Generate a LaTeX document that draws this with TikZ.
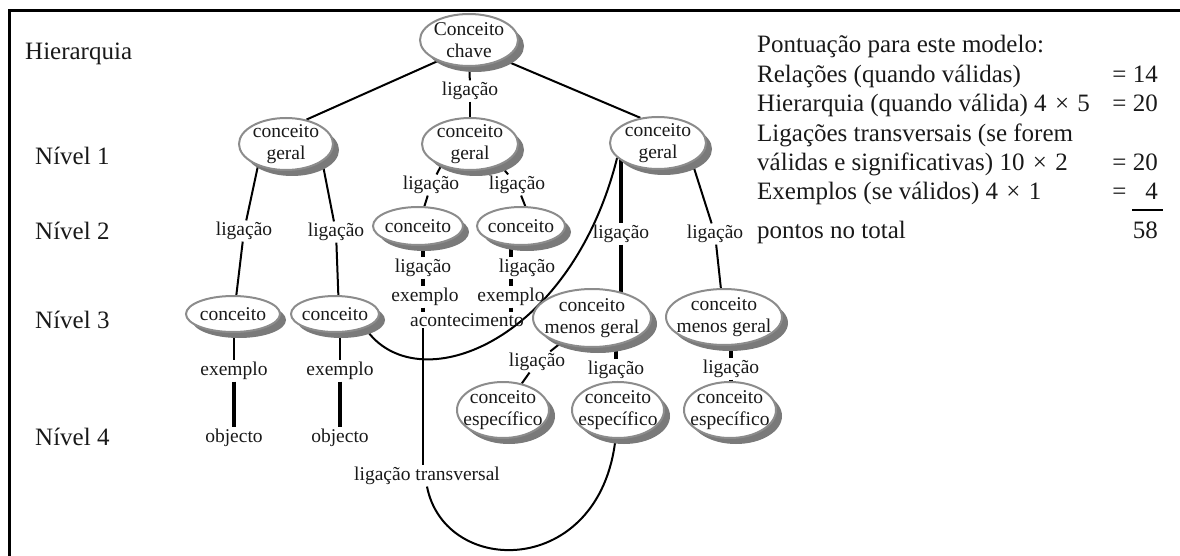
\documentclass[tikz,border=0pt]{standalone}
\usepackage{fontspec}
\setmainfont{Liberation Serif}
\usetikzlibrary{shapes.geometric,shadows,backgrounds}
\definecolor{ellline}{HTML}{8C8C8C}
\definecolor{ellshadow}{HTML}{7A7A7A}
\begin{document}
\begin{tikzpicture}[x=1pt,y=-1pt,
  ell/.style={ellipse, draw=ellline, line width=2pt, fill=white, inner sep=0pt,
     drop shadow={shadow xshift=6pt, shadow yshift=-6pt, fill=ellshadow, opacity=1}},
  ellt/.style={font=\fontsize{19.5}{22}\selectfont, align=center, inner sep=0pt, text=black!90},
  lbl/.style={font=\fontsize{19.5}{22}\selectfont, inner xsep=1pt, inner ysep=1.5pt, text=black!90},
  big/.style={font=\fontsize{25}{27}\selectfont, inner sep=0pt, text=black!90},
  conn/.style={line width=2pt},
  thk/.style={line width=3.5pt},
]
\useasboundingbox (0,0) rectangle (1180,556);
% frame
\draw[line width=3pt] (9,556) -- (9,11) -- (1180,11);

% left hierarchy labels
\node[big, anchor=base west] (hier) at (25,60) {Hierarquia};
\node[big, anchor=west] (n1) at (35,156) {Nível 1};
\node[big, anchor=west] (n2) at (35,231) {Nível 2};
\node[big, anchor=west] (n3) at (35,320) {Nível 3};
\node[big, anchor=west] (n4) at (35,437) {Nível 4};

% concept ellipses
\node[ell, minimum width=98, minimum height=52, label={[ellt]center:{Conceito\\chave}}] (K) at (469,40) {};
\node[ell, minimum width=94, minimum height=52, label={[ellt]center:{conceito\\geral}}] (G1) at (286,144) {};
\node[ell, minimum width=96, minimum height=52, label={[ellt]center:{conceito\\geral}}] (G2) at (470,144) {};
\node[ell, minimum width=96, minimum height=52, label={[ellt]center:{conceito\\geral}}] (G3) at (658,143) {};
\node[ell, minimum width=90, minimum height=38, label={[ellt]center:{conceito}}] (C1) at (418,226) {};
\node[ell, minimum width=88, minimum height=38, label={[ellt]center:{conceito}}] (C2) at (521,226) {};
\node[ell, minimum width=94, minimum height=36, label={[ellt]center:{conceito}}] (D1) at (233,314) {};
\node[ell, minimum width=88, minimum height=36, label={[ellt]center:{conceito}}] (D2) at (335,314) {};
\node[ell, minimum width=118, minimum height=58, label={[ellt]center:{conceito\\menos geral}}] (M1) at (592,318) {};
\node[ell, minimum width=116, minimum height=56, label={[ellt]center:{conceito\\menos geral}}] (M2) at (724,317) {};
\node[ell, minimum width=92, minimum height=56, label={[ellt]center:{conceito\\específico}}] (E1) at (503,410) {};
\node[ell, minimum width=92, minimum height=56, label={[ellt]center:{conceito\\específico}}] (E2) at (618,410) {};
\node[ell, minimum width=92, minimum height=56, label={[ellt]center:{conceito\\específico}}] (E3) at (730,410) {};

% link labels
\node[lbl] (l0) at (470,91) {ligação};
\node[lbl] (la) at (244,231) {ligação};
\node[lbl] (lb) at (336,232) {ligação};
\node[lbl] (lc) at (431,185) {ligação};
\node[lbl] (ld) at (517,185) {ligação};
\node[lbl] (le) at (621,234) {ligação};
\node[lbl] (lf) at (715,234) {ligação};
\node[lbl] (l1) at (423,268) {ligação};
\node[lbl] (x1) at (425,297) {exemplo};
\node[lbl] (ac) at (467,320) {acontecimento};
\node[lbl] (l2) at (527,268) {ligação};
\node[lbl] (x2) at (511,297) {exemplo};
\node[lbl] (xa) at (234,371) {exemplo};
\node[lbl] (oa) at (234,438) {objecto};
\node[lbl] (xb) at (340,371) {exemplo};
\node[lbl] (ob) at (340,438) {objecto};
\node[lbl] (lg) at (537,362) {ligação};
\node[lbl] (lh) at (616,370) {ligação};
\node[lbl] (li) at (731,369) {ligação};
\node[lbl] (lt) at (427,476) {ligação transversal};

% connectors (behind the nodes)
\begin{scope}[on background layer]
\draw[conn] (K.214) -- (G1.50);
\draw[conn] (K.330) -- (G3.125);
\draw[conn] (K) -- (l0);
\draw[conn] (l0) -- (G2);
\draw[conn] (G1.218) -- (la);
\draw[conn] (la) -- (D1.80);
\draw[conn] (G1.334) -- (lb);
\draw[conn] (lb) -- (D2.80);
\draw[conn] (G2.217) -- (lc);
\draw[conn] (lc) -- (C1.72);
\draw[conn] (G2.325) -- (ld);
\draw[conn] (ld) -- (C2.78);
\draw[thk] (le |- G3.center) -- (le);
\draw[thk] (le) -- (le |- M1.center);
\draw[conn] ([xshift=28pt]G3.center) -- (lf);
\draw[conn] (lf) -- (M2);
% column under first conceito
\draw[thk] (l1 |- C1.center) -- (l1.north);
\draw[thk] (l1.south) -- (l1 |- x1.north);
\draw[thk] (l1 |- x1.south) -- (l1 |- ac.north);
\draw[conn] (l1 |- ac.south) -- (l1 |- lt.north);
% column under second conceito
\draw[thk] (x2 |- C2.center) -- (x2 |- l2.north);
\draw[thk] (x2 |- l2.south) -- (x2.north);
\draw[thk] (x2.south) -- (x2 |- ac.north);
% level 3 to objects
\draw[conn] (xa |- D1.center) -- (xa);
\draw[line width=4pt] (xa) -- (oa);
\draw[conn] (xb |- D2.center) -- (xb);
\draw[line width=4pt] (xb) -- (ob);
% level 3 to level 4
\draw[conn] (M1) -- (lg);
\draw[conn] (lg) -- (E1);
\draw[thk] (lh |- M1.center) -- (lh);
\draw[thk] (lh) -- (lh |- E2.center);
\draw[thk] (li |- M2.center) -- (li);
\draw[thk] (li) -- (li |- E3.center);
% cross links
\draw[conn] (D2.335) .. controls (415,402) and (570,345) .. (G3.200);
\draw[conn] (lt.south) .. controls (445,578) and (600,578) .. (E2.265);
\end{scope}

% score block
\node[big, anchor=base west] (p0) at (757,53) {Pontuação para este modelo:};
\node[big, anchor=base west] (p1) at (757,83) {Relações (quando válidas)};
\node[big, anchor=base east] (p1v) at (1158,83) {= 14};
\node[big, anchor=base west] (p2) at (757,112) {Hierarquia (quando válida) 4\,\,×\,\,5};
\node[big, anchor=base east] (p2v) at (1158,112) {= 20};
\node[big, anchor=base west] (p3) at (757,142) {Ligações transversais (se forem};
\node[big, anchor=base west] (p4) at (757,171) {válidas e significativas) 10\,\,×\,\,2};
\node[big, anchor=base east] (p4v) at (1158,171) {= 20};
\node[big, anchor=base west] (p5) at (757,200) {Exemplos (se válidos) 4\,\,×\,\,1};
\node[big, anchor=base east] (p5v) at (1158,200) {= \phantom{1}4};
\draw[line width=1.5pt] (1132,210) -- (1163,210);
\node[big, anchor=base west] (p6) at (757,238) {pontos no total};
\node[big, anchor=base east] (p6v) at (1158,238) {58};
\end{tikzpicture}
\end{document}
